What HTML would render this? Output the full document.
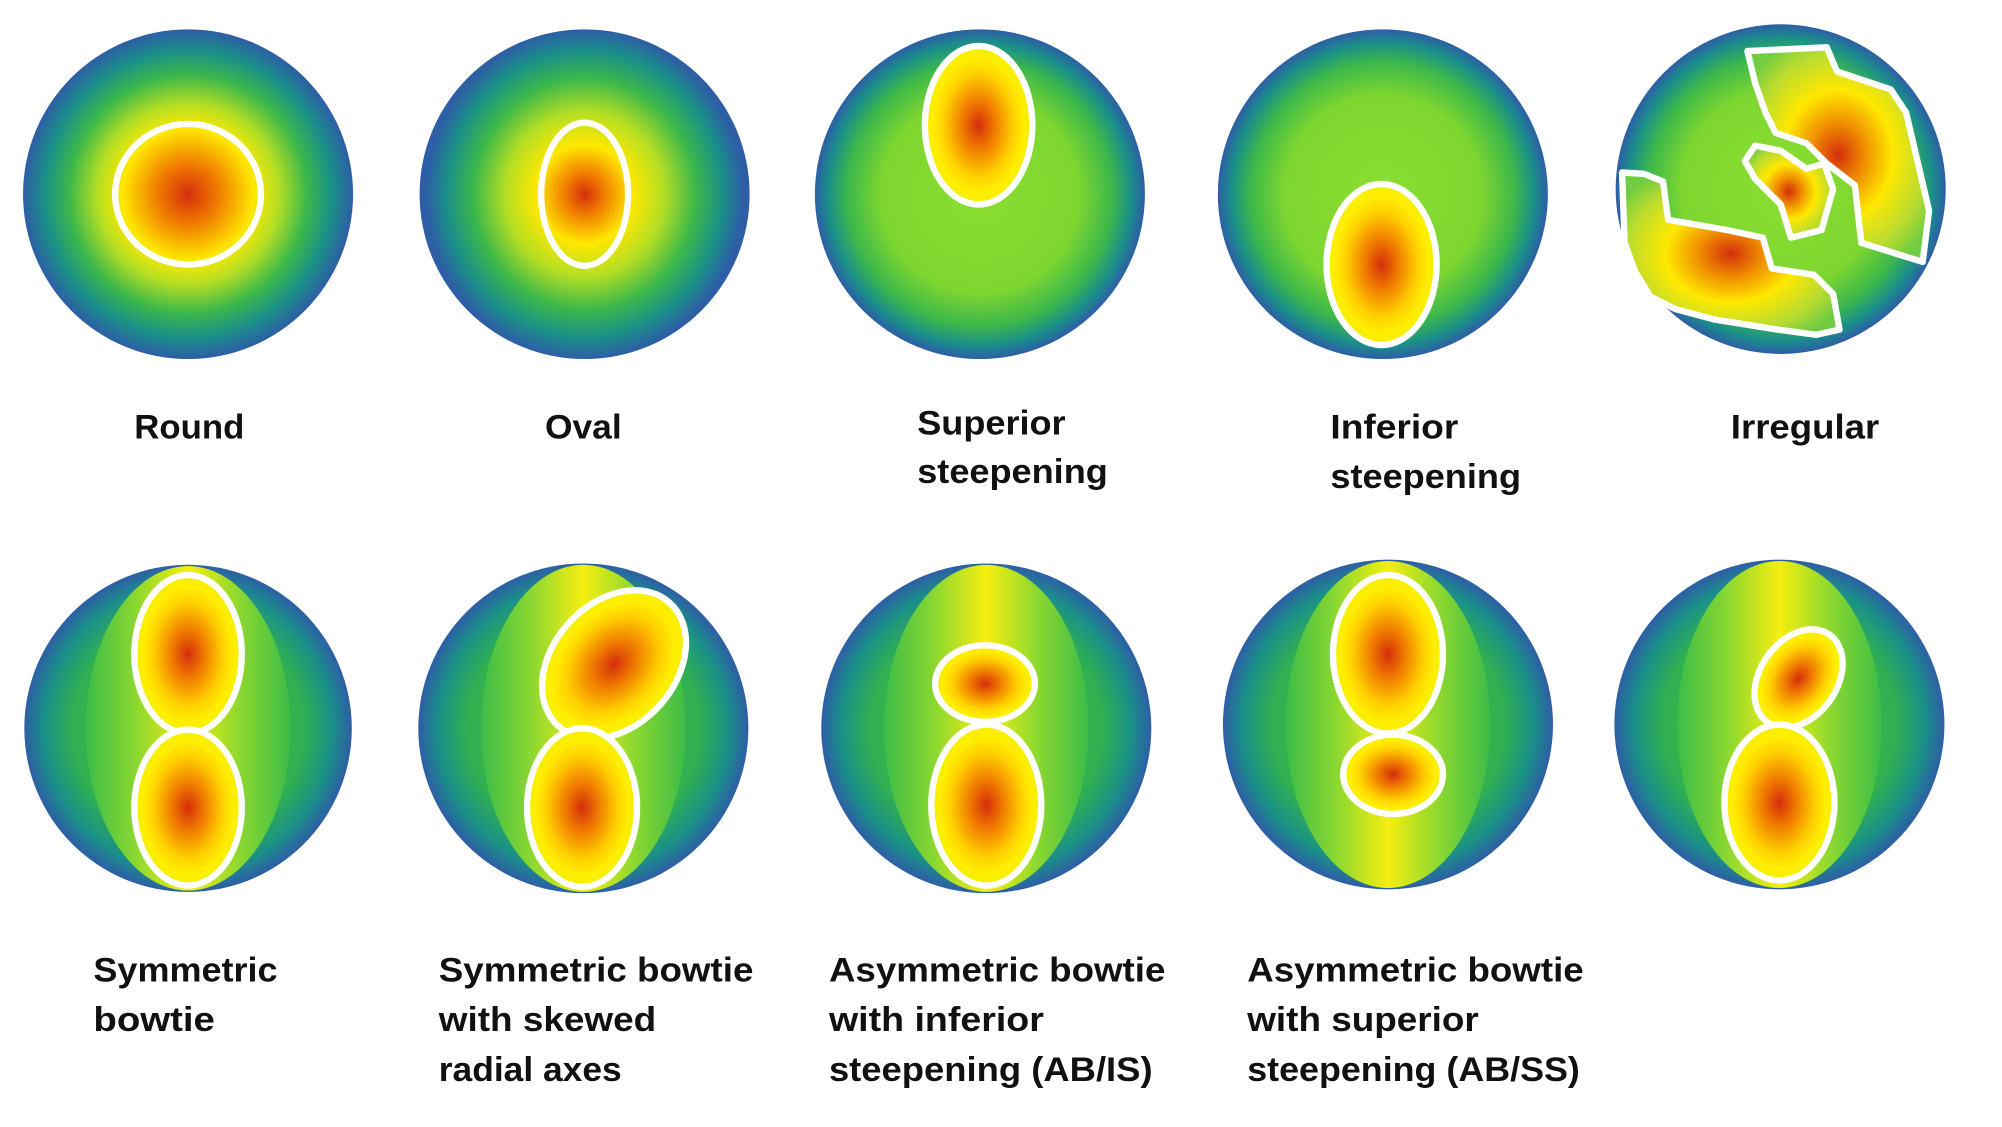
<!DOCTYPE html>
<html><head><meta charset="utf-8"><style>
html,body{margin:0;padding:0;background:#fff;}
svg{display:block;}
text{font-family:"Liberation Sans",sans-serif;font-weight:bold;font-size:27px;fill:#111;}
</style></head><body>
<svg width="2002" height="1127" viewBox="0 0 1565 882" preserveAspectRatio="none" xmlns="http://www.w3.org/2000/svg">
<defs>
<radialGradient id="full" cx="0.5" cy="0.5" r="0.5">
<stop offset="0" stop-color="#d42e0c"/><stop offset="0.18" stop-color="#f07a00"/>
<stop offset="0.4" stop-color="#ffe800"/><stop offset="0.55" stop-color="#b4de24"/>
<stop offset="0.72" stop-color="#3cb84a"/><stop offset="0.87" stop-color="#1a9088"/>
<stop offset="1" stop-color="#2d5ea6"/></radialGradient>
<radialGradient id="ovalg" cx="0.5" cy="0.5" r="0.5" gradientTransform="translate(0.5 0.5) scale(0.96 1) translate(-0.5 -0.5)">
<stop offset="0" stop-color="#d42e0c"/><stop offset="0.12" stop-color="#f07a00"/>
<stop offset="0.3" stop-color="#ffe800"/><stop offset="0.5" stop-color="#b4de24"/>
<stop offset="0.7" stop-color="#3cb84a"/><stop offset="0.87" stop-color="#1a9088"/>
<stop offset="1" stop-color="#2d5ea6"/></radialGradient>
<radialGradient id="greenbg" cx="0.5" cy="0.5" r="0.5">
<stop offset="0" stop-color="#8ade30"/><stop offset="0.6" stop-color="#7ed630"/>
<stop offset="0.8" stop-color="#3cb84a"/><stop offset="0.92" stop-color="#1a8e8a"/>
<stop offset="1" stop-color="#2d5ea6"/></radialGradient>
<radialGradient id="bowbg" cx="0.5" cy="0.5" r="0.5">
<stop offset="0" stop-color="#40c048"/><stop offset="0.7" stop-color="#30b050"/>
<stop offset="0.88" stop-color="#1a9088"/><stop offset="1" stop-color="#2d5ea6"/></radialGradient>
<linearGradient id="band" x1="0" x2="1" y1="0" y2="0">
<stop offset="0" stop-color="#3cbc48"/><stop offset="0.25" stop-color="#8cd830"/>
<stop offset="0.5" stop-color="#f6ee10"/><stop offset="0.75" stop-color="#8cd830"/>
<stop offset="1" stop-color="#3cbc48"/></linearGradient>
<radialGradient id="lobe" cx="0.5" cy="0.5" r="0.5">
<stop offset="0" stop-color="#d42e0c"/><stop offset="0.3" stop-color="#f07a00"/>
<stop offset="0.65" stop-color="#ffd000"/><stop offset="0.85" stop-color="#ffee00"/>
<stop offset="1" stop-color="#f4f000"/></radialGradient>
<radialGradient id="irr" cx="0.5" cy="0.5" r="0.6">
<stop offset="0" stop-color="#d42e0c"/><stop offset="0.25" stop-color="#f09000"/>
<stop offset="0.5" stop-color="#ffe800"/><stop offset="0.8" stop-color="#b8dc30"/>
<stop offset="1" stop-color="#70cc40"/></radialGradient>
</defs>

<!-- Row 1 -->
<circle cx="147" cy="152" r="129" fill="url(#full)"/>
<ellipse cx="147" cy="152" rx="57" ry="55" fill="none" stroke="#fff" stroke-width="5"/>

<circle cx="457" cy="152" r="129" fill="url(#ovalg)"/>
<ellipse cx="457" cy="152" rx="34" ry="56" fill="none" stroke="#fff" stroke-width="5"/>

<circle cx="766" cy="152" r="129" fill="url(#greenbg)"/>
<ellipse cx="765" cy="98" rx="42" ry="62" fill="url(#lobe)" stroke="#fff" stroke-width="5"/>

<circle cx="1081" cy="152" r="129" fill="url(#greenbg)"/>
<ellipse cx="1080" cy="207" rx="43" ry="63" fill="url(#lobe)" stroke="#fff" stroke-width="5"/>

<circle cx="1392" cy="148" r="129" fill="url(#greenbg)"/>
<g stroke="#fff" stroke-width="5" stroke-linejoin="round">
<polygon points="1366,40 1428,37 1436,56 1478,70 1490,88 1508,165 1503,205 1455,190 1450,145 1428,128 1412,112 1388,104 1380,88 1372,65" fill="url(#irr)"/>
<polygon points="1372,114 1392,118 1412,132 1426,128 1433,148 1424,180 1400,186 1392,160 1372,140 1364,126" fill="url(#irr)"/>
<polygon points="1268,135 1285,136 1300,142 1304,172 1350,180 1378,186 1385,210 1418,215 1433,230 1438,258 1420,262 1390,258 1340,250 1310,242 1290,232 1278,212 1270,190" fill="url(#irr)"/>
</g>

<!-- Row 2 -->
<g>
<circle cx="147" cy="570" r="128" fill="url(#bowbg)"/>
<ellipse cx="147" cy="570" rx="80" ry="127" fill="url(#band)"/>
<ellipse cx="147" cy="512" rx="42" ry="62" fill="url(#lobe)" stroke="#fff" stroke-width="5"/>
<ellipse cx="147" cy="632" rx="42" ry="61" fill="url(#lobe)" stroke="#fff" stroke-width="5"/>
</g>
<g>
<circle cx="456" cy="570" r="129" fill="url(#bowbg)"/>
<ellipse cx="456" cy="570" rx="80" ry="128" fill="url(#band)"/>
<ellipse cx="480" cy="520" rx="48" ry="65" transform="rotate(42 480 520)" fill="url(#lobe)" stroke="#fff" stroke-width="5"/>
<ellipse cx="455" cy="632" rx="43" ry="62" fill="url(#lobe)" stroke="#fff" stroke-width="5"/>
</g>
<g>
<circle cx="771" cy="570" r="129" fill="url(#bowbg)"/>
<ellipse cx="771" cy="570" rx="80" ry="128" fill="url(#band)"/>
<ellipse cx="770" cy="535" rx="39" ry="30" fill="url(#lobe)" stroke="#fff" stroke-width="5"/>
<ellipse cx="771" cy="630" rx="43" ry="63" fill="url(#lobe)" stroke="#fff" stroke-width="5"/>
</g>
<g>
<circle cx="1085" cy="567" r="129" fill="url(#bowbg)"/>
<ellipse cx="1085" cy="567" rx="80" ry="128" fill="url(#band)"/>
<ellipse cx="1085" cy="512" rx="43" ry="62" fill="url(#lobe)" stroke="#fff" stroke-width="5"/>
<ellipse cx="1089" cy="606" rx="39" ry="31" fill="url(#lobe)" stroke="#fff" stroke-width="5"/>
</g>
<g>
<circle cx="1391" cy="567" r="129" fill="url(#bowbg)"/>
<ellipse cx="1391" cy="567" rx="80" ry="128" fill="url(#band)"/>
<ellipse cx="1406" cy="531" rx="30" ry="42" transform="rotate(35 1406 531)" fill="url(#lobe)" stroke="#fff" stroke-width="5"/>
<ellipse cx="1391" cy="628" rx="43" ry="61" fill="url(#lobe)" stroke="#fff" stroke-width="5"/>
</g>

<!-- Labels row 1 -->
<text x="105" y="343" textLength="86" lengthAdjust="spacingAndGlyphs">Round</text>
<text x="426" y="343" textLength="60" lengthAdjust="spacingAndGlyphs">Oval</text>
<text x="717" y="340" textLength="116" lengthAdjust="spacingAndGlyphs">Superior</text>
<text x="717" y="378" textLength="149" lengthAdjust="spacingAndGlyphs">steepening</text>
<text x="1040" y="343" textLength="100" lengthAdjust="spacingAndGlyphs">Inferior</text>
<text x="1040" y="382" textLength="149" lengthAdjust="spacingAndGlyphs">steepening</text>
<text x="1353" y="343" textLength="116" lengthAdjust="spacingAndGlyphs">Irregular</text>

<!-- Labels row 2 -->
<text x="73" y="768" textLength="144" lengthAdjust="spacingAndGlyphs">Symmetric</text>
<text x="73" y="807" textLength="95" lengthAdjust="spacingAndGlyphs">bowtie</text>
<text x="343" y="768" textLength="246" lengthAdjust="spacingAndGlyphs">Symmetric bowtie</text>
<text x="343" y="807" textLength="170" lengthAdjust="spacingAndGlyphs">with skewed</text>
<text x="343" y="846" textLength="143" lengthAdjust="spacingAndGlyphs">radial axes</text>
<text x="648" y="768" textLength="263" lengthAdjust="spacingAndGlyphs">Asymmetric bowtie</text>
<text x="648" y="807" textLength="168" lengthAdjust="spacingAndGlyphs">with inferior</text>
<text x="648" y="846" textLength="253" lengthAdjust="spacingAndGlyphs">steepening (AB/IS)</text>
<text x="975" y="768" textLength="263" lengthAdjust="spacingAndGlyphs">Asymmetric bowtie</text>
<text x="975" y="807" textLength="181" lengthAdjust="spacingAndGlyphs">with superior</text>
<text x="975" y="846" textLength="260" lengthAdjust="spacingAndGlyphs">steepening (AB/SS)</text>
</svg>
</body></html>
